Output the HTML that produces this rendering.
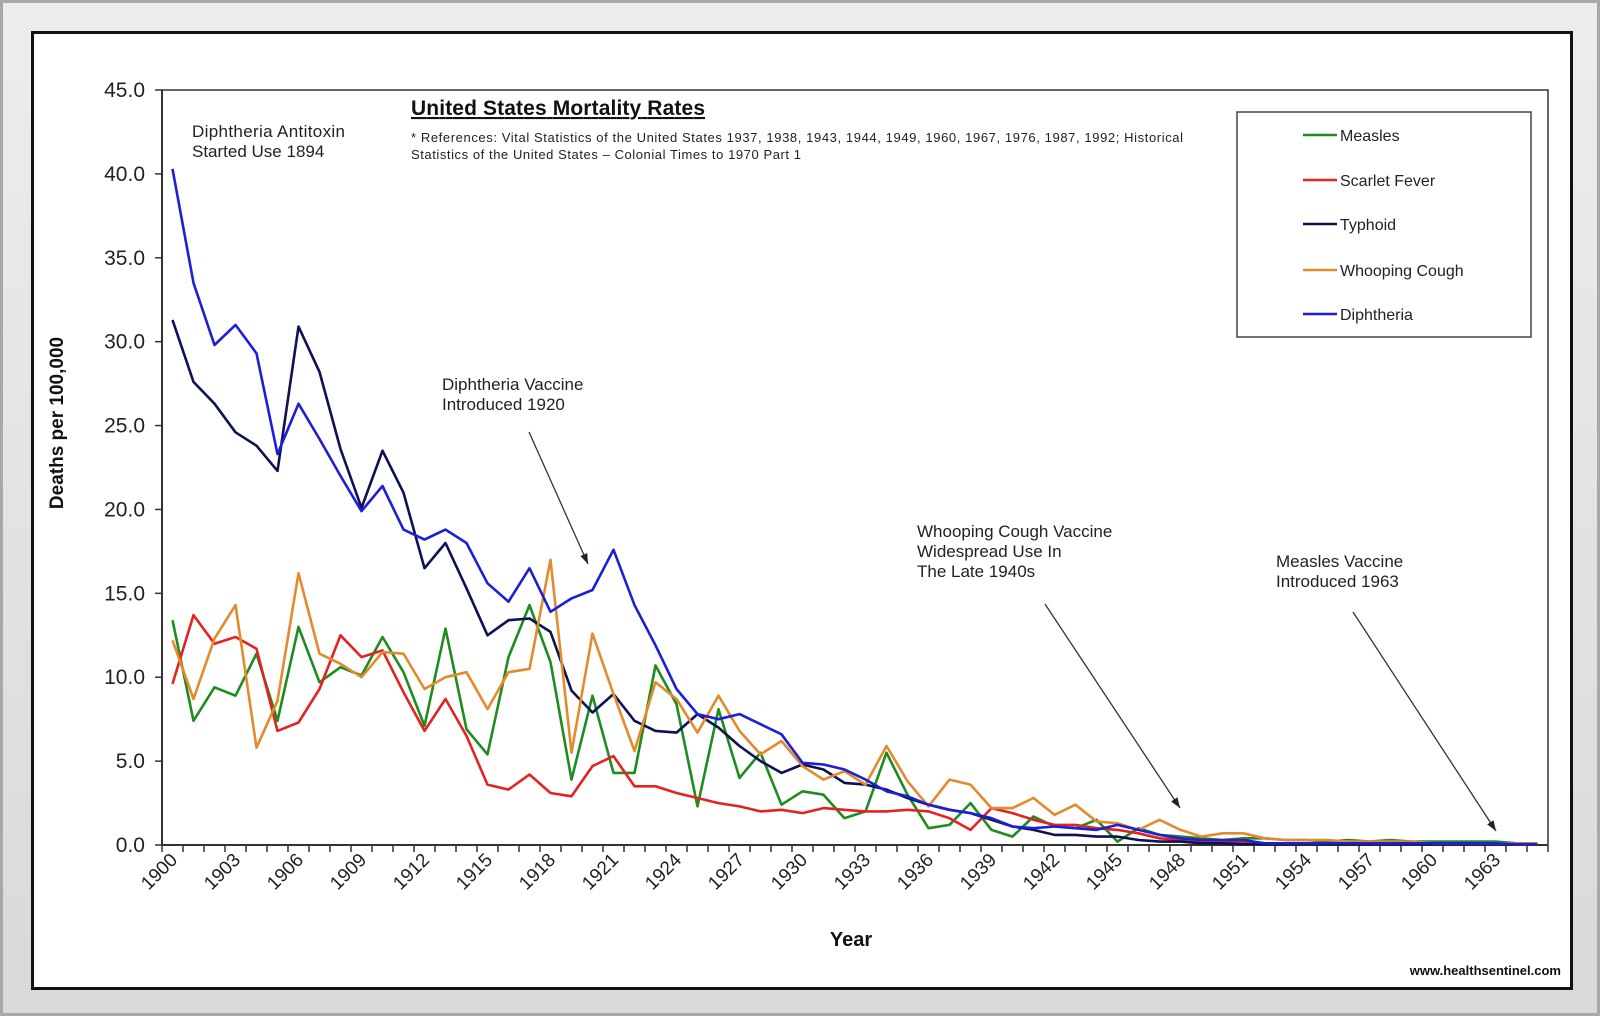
<!DOCTYPE html>
<html><head><meta charset="utf-8"><style>
body{margin:0;width:1600px;height:1016px;background:#e2e2e2;font-family:"Liberation Sans",sans-serif;overflow:hidden}
#frame{position:absolute;left:0;top:0;width:1594px;height:1010px;border:3px solid #a8a8a8;background:linear-gradient(#ededed,#d9d9d9)}
#panel{position:absolute;left:31px;top:31px;width:1536px;height:953px;border:3px solid #111;background:#fff}
svg{position:absolute;left:0;top:0}
</style></head><body>
<div id="frame"></div>
<div id="panel"></div>
<svg id="chart" width="1600" height="1016"></svg>
<script>
const years=[];for(let y=1900;y<=1965;y++)years.push(y);
const measles=[13.4,7.4,9.4,8.9,11.4,7.4,13.0,9.7,10.6,10.1,12.4,10.3,7.1,12.9,6.9,5.4,11.2,14.3,10.9,3.9,8.9,4.3,4.3,10.7,8.4,2.3,8.1,4.0,5.5,2.4,3.2,3.0,1.6,2.0,5.5,3.0,1.0,1.2,2.5,0.9,0.5,1.7,1.1,1.0,1.5,0.2,1.0,0.6,0.5,0.4,0.3,0.4,0.4,0.3,0.3,0.2,0.3,0.2,0.3,0.2,0.2,0.2,0.2,0.2,0.1,0.1];
const scarlet=[9.6,13.7,12.0,12.4,11.7,6.8,7.3,9.3,12.5,11.2,11.6,9.1,6.8,8.7,6.5,3.6,3.3,4.2,3.1,2.9,4.7,5.3,3.5,3.5,3.1,2.8,2.5,2.3,2.0,2.1,1.9,2.2,2.1,2.0,2.0,2.1,2.0,1.6,0.9,2.2,1.9,1.5,1.2,1.2,1.0,0.9,0.7,0.4,0.3,0.2,0.2,0.2,0.1,0.1,0.1,0.1,0.1,0.1,0.1,0.1,0.1,0.1,0.1,0.1,0.1,0.1];
const typhoid=[31.3,27.6,26.3,24.6,23.8,22.3,30.9,28.2,23.6,20.1,23.5,21.0,16.5,18.0,15.3,12.5,13.4,13.5,12.7,9.2,7.9,9.0,7.4,6.8,6.7,7.8,7.0,5.9,5.0,4.3,4.8,4.5,3.7,3.6,3.3,2.8,2.4,2.1,1.9,1.5,1.1,0.9,0.6,0.6,0.5,0.5,0.3,0.2,0.2,0.1,0.1,0.05,0.05,0.05,0.05,0.05,0.05,0.05,0.05,0.05,0.05,0.05,0.05,0.05,0.05,0.05];
const whooping=[12.2,8.7,12.3,14.3,5.8,8.6,16.2,11.4,10.8,10.0,11.5,11.4,9.3,10.0,10.3,8.1,10.3,10.5,17.0,5.5,12.6,9.0,5.6,9.7,8.7,6.7,8.9,6.8,5.4,6.2,4.7,3.9,4.4,3.6,5.9,3.8,2.3,3.9,3.6,2.2,2.2,2.8,1.8,2.4,1.4,1.3,0.9,1.5,0.9,0.5,0.7,0.7,0.4,0.3,0.3,0.3,0.2,0.2,0.2,0.2,0.1,0.1,0.1,0.1,0.1,0.1];
const diphtheria=[40.3,33.5,29.8,31.0,29.3,23.3,26.3,24.2,22.0,19.9,21.4,18.8,18.2,18.8,18.0,15.6,14.5,16.5,13.9,14.7,15.2,17.6,14.3,11.9,9.3,7.8,7.5,7.8,7.2,6.6,4.9,4.8,4.5,3.9,3.2,2.9,2.4,2.1,1.9,1.6,1.1,1.0,1.1,1.0,0.9,1.2,0.9,0.6,0.4,0.3,0.3,0.3,0.1,0.1,0.1,0.1,0.1,0.1,0.1,0.1,0.1,0.1,0.1,0.1,0.05,0.05];
const yTicks=[0,5,10,15,20,25,30,35,40,45];
const seriesNames=["Measles","Scarlet Fever","Typhoid","Whooping Cough","Diphtheria"];

const NS="http://www.w3.org/2000/svg";
const svg=document.getElementById('chart');
const L=162,R=1548,T=90,B=845,YMAX=45;
const band=(R-L)/years.length;
function xs(i){return L+band*(i+0.5);}
function ys(v){return B-(v/YMAX)*(B-T);}
function mk(tag,attrs,parent){const e=document.createElementNS(NS,tag);for(const k in attrs)e.setAttribute(k,attrs[k]);(parent||svg).appendChild(e);return e;}
function txt(s,attrs,parent){const e=mk('text',attrs,parent);e.textContent=s;return e;}

let e=mk('path',{d:`M${L},${T}H${R}V${B}`,fill:'none',stroke:'#333','stroke-width':1.5});


e=mk('line',{x1:L,y1:T,x2:L,y2:B+1,stroke:'#333','stroke-width':2});


yTicks.forEach(v=>{
  const t=mk('line',{x1:L-7,x2:L,y1:ys(v),y2:ys(v),stroke:'#333','stroke-width':1.5});
  
  
  const l=txt(v.toFixed(1),{x:L-17,y:ys(v)+7,'text-anchor':'end','font-size':21,fill:'#222'});
  
  
});
e=mk('line',{x1:L,y1:B,x2:R,y2:B,stroke:'#333','stroke-width':2});


for(let i=0;i<=years.length;i++){
  const x=L+band*i;
  const t=mk('line',{x1:x,x2:x,y1:B,y2:B+7,stroke:'#333','stroke-width':1.5});
  
  
}
years.forEach((y,i)=>{
  if(i%3!==0)return;
  const x=xs(i)+6,yy=B+16;
  const l=txt(String(y),{x:x,y:yy,'text-anchor':'end','font-size':19,fill:'#222',transform:`rotate(-45 ${x} ${yy})`});
  
  
});
e=txt('Year',{x:851,y:946,'text-anchor':'middle','font-size':20,'font-weight':'bold',fill:'#111'});


e=txt('Deaths per 100,000',{x:63,y:423,'text-anchor':'middle','font-size':19,'font-weight':'bold',fill:'#111',transform:'rotate(-90 63 423)'});



const series=[[measles,'#1e8c1e','measles-line'],[scarlet,'#e42222','scarlet-fever-line'],[typhoid,'#0c1252','typhoid-line'],[whooping,'#e58a2c','whooping-cough-line'],[diphtheria,'#1c20d4','diphtheria-line']];
series.forEach(([arr,c,name])=>{
  const d=arr.map((v,i)=>(i?'L':'M')+xs(i).toFixed(1)+','+ys(v).toFixed(1)).join('');
  const p=mk('path',{d:d,fill:'none',stroke:c,'stroke-width':2.6,'stroke-linejoin':'round'});
  
  
});

const lg=mk('g',{});


mk('rect',{x:1237,y:112,width:294,height:225,fill:'#fff',stroke:'#444','stroke-width':1.5},lg);
const ly=[135,180,224,270,314];
seriesNames.forEach((n,i)=>{
  const g=mk('g',{},lg);
  
  
  mk('line',{x1:1303,x2:1337,y1:ly[i],y2:ly[i],stroke:series[i][1],'stroke-width':2.6},g);
  txt(n,{x:1340,y:ly[i]+6,'font-size':16,fill:'#222'},g);
});

e=txt('United States Mortality Rates',{x:411,y:115,'font-size':21,'font-weight':'bold',fill:'#111','text-decoration':'underline',textLength:294});


const refs=['* References: Vital Statistics of the United States 1937, 1938, 1943, 1944, 1949, 1960, 1967, 1976, 1987, 1992; Historical','Statistics of the United States \u2013 Colonial Times to 1970 Part 1'];
refs.forEach((s,i)=>{
  const r=txt(s,{x:411,y:142+i*17,'font-size':13,fill:'#222',textLength:i?390:772});
  
  
});
function note(lines,x,y,name,tl){
  const g=mk('g',{});
  
  
  lines.forEach((s,i)=>{const a={x:x,y:y+i*20,'font-size':17,fill:'#222'};if(tl&&tl[i])a.textLength=tl[i];txt(s,a,g);});
}
note(['Diphtheria Antitoxin','Started Use 1894'],192,137,'antitoxin-annotation',[153,0]);
note(['Diphtheria Vaccine','Introduced 1920'],442,390,'diphtheria-vaccine-annotation');
note(['Whooping Cough Vaccine','Widespread Use In','The Late 1940s'],917,537,'whooping-cough-vaccine-annotation');
note(['Measles Vaccine','Introduced 1963'],1276,567,'measles-vaccine-annotation');
function arrow(x1,y1,x2,y2,name){
  const g=mk('g',{});
  
  
  mk('line',{x1:x1,y1:y1,x2:x2,y2:y2,stroke:'#333','stroke-width':1.3},g);
  const a=Math.atan2(y2-y1,x2-x1),s=11;
  const p1=[x2-s*Math.cos(a-0.35),y2-s*Math.sin(a-0.35)],p2=[x2-s*Math.cos(a+0.35),y2-s*Math.sin(a+0.35)];
  mk('polygon',{points:`${x2},${y2} ${p1} ${p2}`,fill:'#222'},g);
}
arrow(529,432,588,564,'diphtheria-vaccine-arrow');
arrow(1045,604,1180,808,'whooping-cough-arrow');
arrow(1353,612,1496,831,'measles-vaccine-arrow');
e=txt('www.healthsentinel.com',{x:1561,y:975,'text-anchor':'end','font-size':13,'font-weight':'bold',fill:'#111'});


</script>
</body></html>
